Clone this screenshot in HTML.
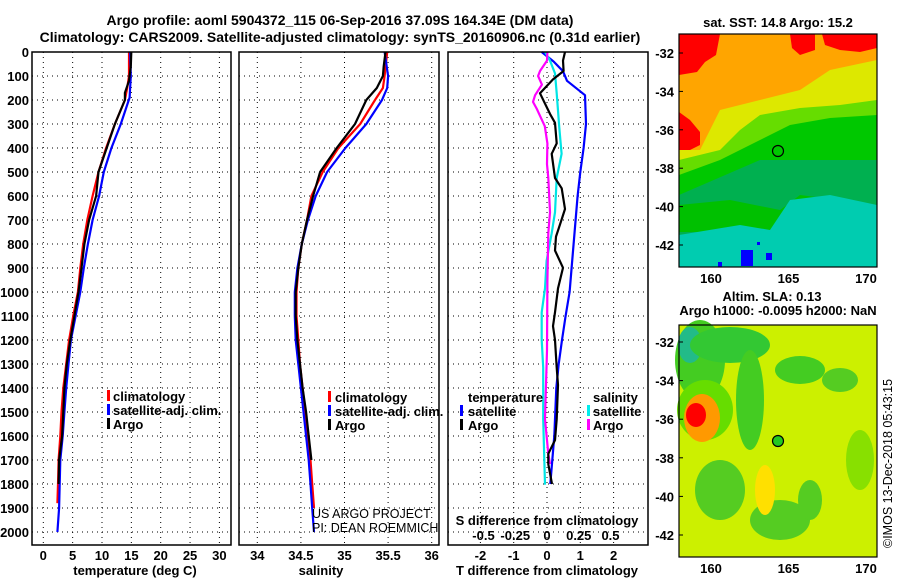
<!DOCTYPE html>
<html><head><meta charset="utf-8">
<style>
html,body{margin:0;padding:0;background:#fff;}
svg{display:block;font-family:"Liberation Sans",sans-serif;}
.b{font-weight:bold;font-size:13px;}
.t{font-weight:bold;font-size:14px;}
</style></head>
<body>
<svg id="c" width="900" height="580" viewBox="0 0 900 580" xmlns="http://www.w3.org/2000/svg">
<text class="t" x="340" y="25" text-anchor="middle">Argo profile: aoml 5904372_115 06-Sep-2016 37.09S 164.34E (DM data)</text>
<text class="t" x="340" y="42" text-anchor="middle">Climatology: CARS2009. Satellite-adjusted climatology: synTS_20160906.nc (0.31d earlier)</text>
<g id="grid"></g>
<g id="maps"></g>
<g id="lines"></g>
<g id="axes"></g>
</svg>
<script>
// ---------- data ----------
const depthTicks=[0,100,200,300,400,500,600,700,800,900,1000,1100,1200,1300,1400,1500,1600,1700,1800,1900,2000];
const tempTicks=[0,5,10,15,20,25,30];
const salTicks=[34,34.5,35,35.5,36];
const dTTicks=[-2,-1,0,1,2];
const dSTicks=[-0.5,-0.25,0,0.25,0.5];
const dSTickLabels=["-0.5","-0.25","0","0.25","0.5"];

const tClimDepth=[0,100,150,200,300,400,500,600,700,800,900,1000,1100,1200,1300,1400,1500,1600,1700,1800,1880];
const tClim=[14.6,14.6,14.3,13.9,12.2,10.7,9.4,8.4,7.5,6.8,6.3,5.9,5.1,4.4,3.9,3.4,3.1,2.9,2.6,2.5,2.4];
const tSatDepth=[0,100,190,300,400,500,600,700,800,900,1000,1100,1200,1300,1400,1500,1600,1700,1800,1900,2000];
const tSat=[14.8,14.9,14.7,13.2,11.6,10.3,9.5,8.4,7.6,6.9,6.3,5.5,4.7,4.3,3.9,3.6,3.3,2.9,2.8,2.7,2.4];
const tArgoDepth=[0,60,120,170,200,300,400,500,600,700,800,900,1000,1100,1200,1300,1400,1500,1600,1700,1800];
const tArgo=[15.0,14.9,14.6,13.9,13.9,12.2,10.8,9.4,9.0,7.8,7.0,6.5,6.0,5.3,4.6,4.0,3.6,3.4,3.2,2.7,2.6];

const sClimDepth=[0,100,150,200,300,400,500,600,700,800,900,1000,1100,1200,1300,1400,1500,1600,1700,1800,1900];
const sClim=[35.49,35.46,35.44,35.35,35.18,34.93,34.75,34.62,34.57,34.51,34.47,34.45,34.45,34.47,34.49,34.52,34.55,34.58,34.61,34.63,34.65];
const sSatDepth=[0,100,150,200,300,400,500,600,700,800,900,1000,1100,1200,1300,1400,1500,1600,1700,1800,1900,2000];
const sSat=[35.46,35.50,35.49,35.43,35.25,35.01,34.80,34.67,34.58,34.51,34.46,34.43,34.43,34.44,34.47,34.50,34.53,34.56,34.59,34.61,34.63,34.65];
const sArgoDepth=[0,60,100,150,200,300,400,500,600,700,800,900,1000,1100,1200,1300,1400,1500,1600,1700];
const sArgo=[35.47,35.45,35.44,35.37,35.25,35.12,34.91,34.72,34.64,34.57,34.51,34.47,34.44,34.44,34.46,34.49,34.52,34.56,34.59,34.62];

const dTSatDepth=[0,40,80,120,180,300,400,500,600,700,800,900,1000,1100,1200,1300,1400,1500,1600,1700,1800];
const dTSat=[-0.16,0.2,0.48,0.6,1.14,1.17,1.1,1.0,0.92,0.86,0.8,0.74,0.68,0.56,0.45,0.35,0.28,0.25,0.22,0.16,0.1];
const dTArgoDepth=[0,36,79,114,172,258,295,381,424,525,568,654,697,769,827,899,985,1085,1142,1200,1315,1387,1530,1617,1674,1717,1800];
const dTArgo=[0.54,0.48,0.5,0.18,-0.21,0.09,0.24,0.29,0.14,0.24,0.44,0.54,0.44,0.27,0.24,0.48,0.33,0.24,0.18,0.24,0.29,0.33,0.29,0.24,0.04,0.04,0.15];
const dSSatDepth=[0,36,89,172,316,424,525,668,755,870,985,1085,1200,1315,1530,1803];
const dSSat=[-0.016,0.024,0.063,0.076,0.097,0.115,0.076,0.063,0.037,-0.003,-0.016,-0.042,-0.042,-0.03,-0.03,-0.016];
const dSArgoDepth=[0,36,79,100,136,180,208,237,266,309,381,467,525,668,755,956,1243,1530,1674,1717];
const dSArgo=[0.003,0.0,-0.055,-0.07,-0.04,-0.094,-0.11,-0.08,-0.055,-0.017,0.003,0.0,0.01,0.024,0.01,0.003,0.0,-0.016,0.01,0.024];

// ---------- axes functions ----------
const Y=d=>52+d*0.24;
const xT=v=>43.3+v*5.87;
const xS=v=>257.3+(v-34)*87.2;
const xdT=v=>547+v*33.3;
const xdS=v=>547+v*127;
const NS="http://www.w3.org/2000/svg";
function mk(tag,attrs,parent){const e=document.createElementNS(NS,tag);for(const k in attrs)e.setAttribute(k,attrs[k]);parent.appendChild(e);return e;}
const G=document.getElementById('grid'),L=document.getElementById('lines'),A=document.getElementById('axes'),M=document.getElementById('maps');

const panels=[{x0:32,x1:231,name:'temperature'},{x0:239,x1:439,name:'salinity'},{x0:448,x1:648,name:'difference'}];
const pTop=52,pBot=545;
panels.forEach(p=>{
  depthTicks.forEach(d=>{
    const l=mk('line',{x1:p.x0,x2:p.x1,y1:Y(d),y2:Y(d),stroke:'#000','stroke-width':1,'stroke-dasharray':'1,4'},G);
    
    
  });
});
tempTicks.forEach(v=>{const l=mk('line',{x1:xT(v),x2:xT(v),y1:pTop,y2:pBot,stroke:'#000','stroke-dasharray':'1,4'},G);
  
  });
salTicks.forEach(v=>{const l=mk('line',{x1:xS(v),x2:xS(v),y1:pTop,y2:pBot,stroke:'#000','stroke-dasharray':'1,4'},G);
  
  });
dTTicks.forEach(v=>{const l=mk('line',{x1:xdT(v),x2:xdT(v),y1:pTop,y2:pBot,stroke:'#000','stroke-dasharray':'1,4'},G);
  
  });

panels.forEach(p=>{
  const r=mk('rect',{x:p.x0,y:pTop,width:p.x1-p.x0,height:pBot-pTop,fill:'none',stroke:'#000','stroke-width':1.5},A);
  
  
});
depthTicks.forEach(d=>{
  const t=mk('text',{x:29,y:Y(d)+5,'text-anchor':'end',class:'b'},A);t.textContent=d;
  
  
});
tempTicks.forEach(v=>{const t=mk('text',{x:xT(v),y:560,'text-anchor':'middle',class:'b'},A);t.textContent=v;
  
  });
salTicks.forEach(v=>{const t=mk('text',{x:xS(v),y:560,'text-anchor':'middle',class:'b'},A);t.textContent=v;
  
  });
dTTicks.forEach(v=>{const t=mk('text',{x:xdT(v),y:560,'text-anchor':'middle',class:'b'},A);t.textContent=v;
  
  });
dSTicks.forEach((v,i)=>{const t=mk('text',{x:xdS(v),y:540,'text-anchor':'middle',class:'b'},A);t.textContent=dSTickLabels[i];
  
  });

function series(xs,ds,fx,color,name){
  const pts=xs.map((v,i)=>fx(v).toFixed(1)+','+Y(ds[i]).toFixed(1)).join(' ');
  const pl=mk('polyline',{points:pts,fill:'none',stroke:color,'stroke-width':2.2,'stroke-linejoin':'round'},L);
  
  
}
series(tClim,tClimDepth,xT,'#ff0000','temp-climatology-line');
series(tSat,tSatDepth,xT,'#0000ff','temp-satellite-line');
series(tArgo,tArgoDepth,xT,'#000','temp-argo-line');
series(sClim,sClimDepth,xS,'#ff0000','sal-climatology-line');
series(sSat,sSatDepth,xS,'#0000ff','sal-satellite-line');
series(sArgo,sArgoDepth,xS,'#000','sal-argo-line');
series(dTSat,dTSatDepth,xdT,'#0000ff','dT-satellite-line');
series(dSSat,dSSatDepth,xdS,'#00e5e5','dS-satellite-line');
series(dSArgo,dSArgoDepth,xdS,'#ff00ff','dS-argo-line');
series(dTArgo,dTArgoDepth,xdT,'#000','dT-argo-line');

// ---------- maps ----------
function poly(pts,fill,name){const p=mk('polygon',{points:pts,fill:fill},M);
  
  }
function ell(cx,cy,rx,ry,fill,name){const p=mk('ellipse',{cx,cy,rx,ry,fill},M);
  
  }
poly('679,34 877,34 877,267 679,267','#ffa500','sst-orange');
poly('679,34 720,34 716,55 705,62 697,72 679,75','#ff0000','sst-red-nw');
poly('790,34 815,34 815,50 800,55 792,48','#ff0000','sst-red-n');
poly('822,34 877,34 877,48 860,52 840,50 825,45','#ff0000','sst-red-ne');
poly('679,112 690,120 700,132 700,145 690,150 679,150','#ff0000','sst-red-w');
poly('679,150 700,150 705,140 720,110 760,100 800,90 830,70 877,60 877,140 679,165','#dde800','sst-yellow');
poly('740,130 760,115 800,108 840,105 877,100 877,160 679,185 679,160 720,150','#66dd00','sst-lightgreen');
poly('760,140 790,125 830,118 877,115 877,175 679,200 679,175 720,160','#00c800','sst-green');
poly('679,195 760,160 877,160 877,250 679,250','#00b050','sst-darkgreen');
poly('679,205 730,200 780,210 800,195 840,200 877,205 877,232 679,232','#00c000','sst-green2');
poly('679,235 740,225 770,230 790,200 830,195 877,205 877,267 679,267','#00ccb0','sst-teal');
poly('741,250 753,250 753,266 741,266','#0000ff','sst-blue-patch');
poly('718,262 722,262 722,267 718,267','#0000ff','sst-blue-dot');
poly('757,242 760,242 760,245 757,245','#0000ff','sst-blue-dot2');
poly('766,253 772,253 772,260 766,260','#0000ff','sst-blue-dot3');
poly('679,325 877,325 877,557 679,557','#ccf000','sla-base');
ell(700,360,25,40,'#44cc22','sla-green-nw');
ell(690,345,12,18,'#22bb88','sla-teal');
ell(730,345,40,18,'#33c833','sla-green-n');
ell(705,410,28,30,'#66dd00','sla-green-w');
ell(702,418,18,24,'#ff9900','sla-orange-blob');
ell(696,415,10,12,'#ff0000','sla-red-blob');
ell(750,400,14,50,'#44cc22','sla-green-c');
ell(800,370,25,14,'#44cc22','sla-green-ne');
ell(840,380,18,12,'#55cc22','sla-green-e');
ell(720,490,25,30,'#55cc22','sla-green-sw');
ell(780,520,30,20,'#55cc22','sla-green-s');
ell(810,500,12,20,'#55cc22','sla-green-s2');
ell(860,460,14,30,'#88e000','sla-green-se');
ell(765,490,10,25,'#ffe000','sla-yellow');
[[679,34,198,233,'sst-map-frame'],[679,325,198,232,'sla-map-frame']].forEach(f=>{
  const r=mk('rect',{x:f[0],y:f[1],width:f[2],height:f[3],fill:'none',stroke:'#000','stroke-width':1.2},A);
  
  
});
const c1=mk('circle',{cx:778,cy:151,r:5.5,fill:'none',stroke:'#000','stroke-width':1.2},A);


const c2=mk('circle',{cx:778,cy:441,r:5.5,fill:'#22c822',stroke:'#000','stroke-width':1.2},A);


const latTicks=[-32,-34,-36,-38,-40,-42];
const lonTicks=[160,165,170];
const mapY1=la=>53+(-32-la)*19.2, mapY2=la=>342+(-32-la)*19.3, mapX=lo=>711+(lo-160)*15.5;
latTicks.forEach(la=>{
  [[mapY1,'sst'],[mapY2,'sla']].forEach(([fy,n])=>{
    const t=mk('text',{x:674,y:fy(la)+5,'text-anchor':'end',class:'b'},A);t.textContent=la;
    
    
    const l=mk('line',{x1:679,x2:683,y1:fy(la),y2:fy(la),stroke:'#000'},A);
    
    
  });
});
lonTicks.forEach(lo=>{
  [[285,'sst'],[575,'sla']].forEach(([y,n])=>{
    const t=mk('text',{x:mapX(lo),y:y-2,'text-anchor':'middle',class:'b'},A);t.textContent=lo;
    
    
  });
});
</script>
<div style="position:absolute;left:0;top:0;width:900px;height:580px;pointer-events:none;">
<svg width="900" height="580" style="position:absolute;left:0;top:0;font-family:'Liberation Sans',sans-serif;">
<g font-weight="bold" font-size="13">
<text x="135" y="575" text-anchor="middle">temperature (deg C)</text>
<text x="321" y="575" text-anchor="middle">salinity</text>
<text x="547" y="575" text-anchor="middle">T difference from climatology</text>
<text x="547" y="525" text-anchor="middle">S difference from climatology</text>
<text x="778" y="27" text-anchor="middle">sat. SST: 14.8 Argo: 15.2</text>
<text x="772" y="301" text-anchor="middle">Altim. SLA: 0.13</text>
<text x="778" y="315" text-anchor="middle">Argo h1000: -0.0095 h2000: NaN</text>
<g>
<rect x="107" y="390" width="3" height="11" fill="#f00"/><text x="113" y="401">climatology</text>
<rect x="107" y="404" width="3" height="11" fill="#00f"/><text x="113" y="415">satellite-adj. clim.</text>
<rect x="107" y="418" width="3" height="11" fill="#000"/><text x="113" y="429">Argo</text>
</g>
<g>
<rect x="328" y="391" width="3" height="11" fill="#f00"/><text x="335" y="402">climatology</text>
<rect x="328" y="405" width="3" height="11" fill="#00f"/><text x="335" y="416">satellite-adj. clim.</text>
<rect x="328" y="419" width="3" height="11" fill="#000"/><text x="335" y="430">Argo</text>
</g>
<g>
<text x="468" y="402">temperature</text>
<rect x="460" y="405" width="3" height="11" fill="#00f"/><text x="468" y="416">satellite</text>
<rect x="460" y="419" width="3" height="11" fill="#000"/><text x="468" y="430">Argo</text>
<text x="593" y="402">salinity</text>
<rect x="587" y="405" width="3" height="11" fill="#0ee"/><text x="593" y="416">satellite</text>
<rect x="587" y="419" width="3" height="11" fill="#f0f"/><text x="593" y="430">Argo</text>
</g>
</g>
<g font-size="12.5">
<text x="312" y="518">US ARGO PROJECT</text>
<text x="312" y="532">PI: DEAN ROEMMICH</text>
<text transform="translate(892,548) rotate(-90)">©IMOS 13-Dec-2018 05:43:15</text>
</g>
</svg>
</div>
</body></html>
